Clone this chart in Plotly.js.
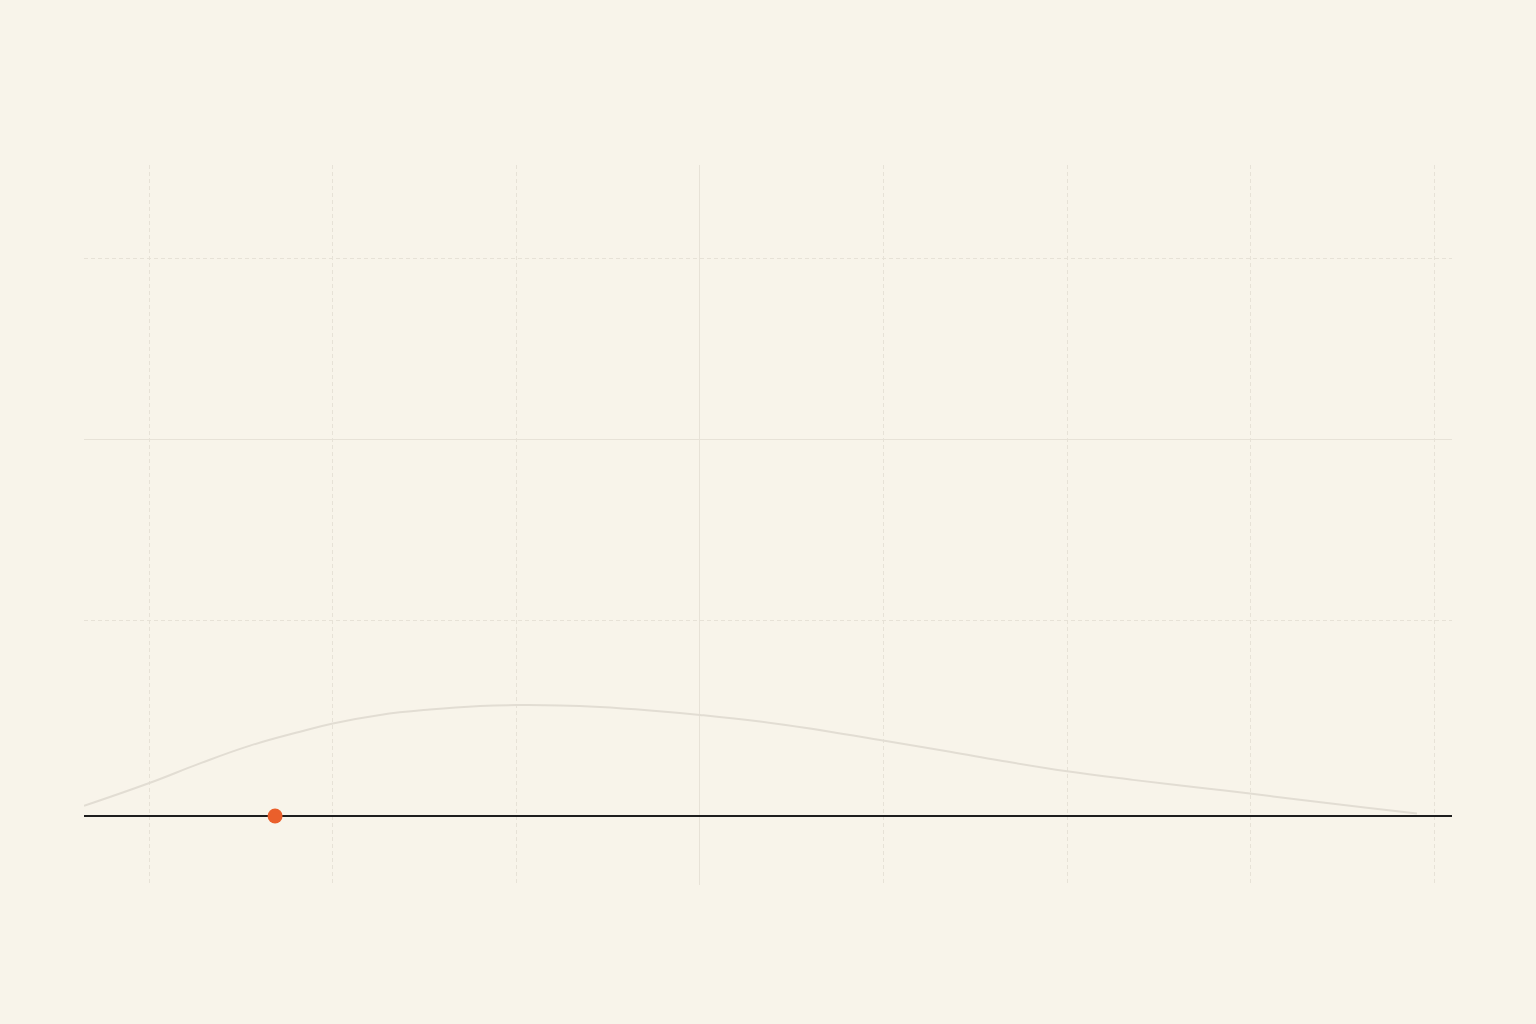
<!DOCTYPE html>
<html>
<head>
<meta charset="utf-8">
<script src="https://cdn.plot.ly/plotly-3.0.1.min.js"></script>
<style>
  html, body { margin: 0; padding: 0; background: #f8f4ea; }
  #chart { width: 1536px; height: 1024px; }
</style>
</head>
<body>
<div id="chart"></div>
<script>
// density curve (x in sd units, y = density)
var curveX = [-3.356, -3.0, -2.724, -2.451, -2.179, -2.0, -1.743, -1.471, -1.198, -1.0,
              -0.763, -0.545, -0.272, 0, 0.327, 0.708, 0.997, 1.362, 1.634, 2.0,
              2.359, 2.724, 2.996, 3.268, 3.633, 3.906];
var curveY = [0.032, 0.104, 0.166, 0.222, 0.266, 0.292, 0.319, 0.336, 0.347, 0.350,
              0.349, 0.344, 0.333, 0.319, 0.298, 0.266, 0.238, 0.203, 0.175, 0.141,
              0.114, 0.089, 0.071, 0.051, 0.026, 0.008];

// the single highlighted observation
var pointX = [-2.315];
var pointY = [0];

var gridY = [-1, 0, 1];

var bg = '#f8f4ea';
var gridCol = '#e7e2d7';

var data = [
  // empty trace so the grid axis (x / y) gets its own subplot drawn
  { type: 'scatter', mode: 'lines', x: [], y: [], hoverinfo: 'skip', showlegend: false },
  { type: 'scatter', mode: 'lines',
    x: curveX, y: curveY, yaxis: 'y2',
    line: { color: '#e2ddd3', width: 2, shape: 'spline', smoothing: 1.2 },
    hoverinfo: 'skip', showlegend: false },
  { type: 'scatter', mode: 'markers',
    x: pointX, y: pointY, yaxis: 'y2',
    marker: { color: '#ea5f2b', size: 15 },
    showlegend: false }
];

var layout = {
  width: 1536, height: 1024,
  paper_bgcolor: bg, plot_bgcolor: bg,
  margin: { l: 84, r: 84, t: 165, b: 139 },
  showlegend: false,
  xaxis: { range: [-3.356, 4.097], dtick: 1, tick0: 0,
           showgrid: true, gridcolor: gridCol, gridwidth: 1, griddash: '4px,3px',
           zeroline: true, zerolinecolor: gridCol, zerolinewidth: 1,
           showticklabels: false, ticks: '', showline: false },
  yaxis: { range: [-2.464, 1.514], tickmode: 'array', tickvals: gridY,
           showgrid: true, gridcolor: gridCol, gridwidth: 1, griddash: '4px,3px',
           zeroline: true, zerolinecolor: gridCol, zerolinewidth: 1,
           showticklabels: false, ticks: '', showline: false },
  yaxis2: { overlaying: 'y', range: [-0.2177, 2.054],
            showgrid: false, zeroline: true, zerolinecolor: '#1e1e1e', zerolinewidth: 1.6,
            showticklabels: false, ticks: '', showline: false }
};

Plotly.newPlot('chart', data, layout, { displayModeBar: false, staticPlot: true });
</script>
</body>
</html>
